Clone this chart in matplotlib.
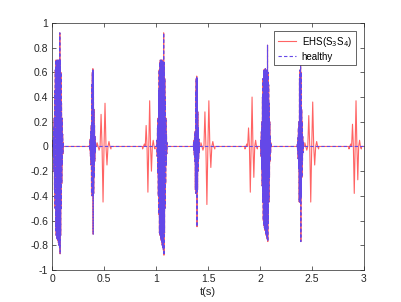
import numpy as np
import matplotlib
matplotlib.use("Agg")
import matplotlib.pyplot as plt

plt.rcParams['font.family'] = ['Liberation Sans', 'DejaVu Sans']

# ---------------------------------------------------------------
# Data: each heart sound is a list of
# successive samples, spaced `dt` seconds from `start`
# ---------------------------------------------------------------
T_END = 3.0

# S1 (present in both signals)
s1_start = [0.008, 1.008, 2.008]
s1_dt = 0.0027
s1_vals = [
    [0.05, -0.08, 0.15, -0.2, 0.23, -0.35, 0.45, -0.5, 0.62, -0.68, 0.7, -0.72, 0.68,
     -0.74, 0.7, -0.75, 0.69, -0.76, 0.7, -0.78, 0.68, -0.8, 0.7, -0.82, 0.92, -0.87,
     0.7, -0.72, 0.6, -0.5, 0.35, -0.3, 0.23, -0.15, 0.1, -0.06, 0.03],
    [0.05, -0.08, 0.15, -0.22, 0.23, -0.4, 0.45, -0.55, 0.62, -0.7, 0.68, -0.72, 0.7,
     -0.74, 0.69, -0.76, 0.7, -0.78, 0.68, -0.8, 0.7, -0.82, 0.68, -0.84, 0.92, -0.88,
     0.68, -0.7, 0.55, -0.5, 0.4, -0.3, 0.23, -0.15, 0.1, -0.06, 0.03],
    [0.05, -0.08, 0.12, -0.18, 0.2, -0.32, 0.4, -0.45, 0.55, -0.6, 0.62, -0.64, 0.6,
     -0.66, 0.62, -0.68, 0.63, -0.7, 0.62, -0.72, 0.6, -0.74, 0.62, -0.75, 0.82, -0.77,
     0.6, -0.62, 0.5, -0.45, 0.35, -0.25, 0.2, -0.12, 0.08, -0.05, 0.03],
]

# S2 (present in both signals)
s2_start = [0.36, 1.36, 2.36]
s2_dt = 0.0026
s2_vals = [
    [0.02, -0.03, 0.06, -0.08, 0.12, -0.15, 0.17, -0.38, 0.5, -0.4, 0.6, -0.4, 0.63,
     -0.71, 0.6, -0.38, 0.3, -0.25, 0.17, -0.12, 0.08, -0.05, 0.03],
    [0.02, -0.03, 0.05, -0.07, 0.1, -0.12, 0.12, -0.35, 0.45, -0.38, 0.55, -0.38, 0.57,
     -0.65, 0.55, -0.35, 0.28, -0.2, 0.15, -0.1, 0.06, -0.05, 0.03],
    [0.02, -0.04, 0.07, -0.1, 0.15, -0.18, 0.2, -0.45, 0.55, -0.45, 0.62, -0.45, 0.68,
     -0.77, 0.6, -0.4, 0.3, -0.25, 0.2, -0.12, 0.08, -0.05, 0.03],
]

# S3 (EHS only)
s3_start = [0.432, 1.432, 2.432]
s3_dt = 0.0095
s3_vals = [
    [0.03, 0, -0.03, 0, 0.26, 0, -0.45, 0, 0.35, 0, -0.15, 0, 0.04, 0, -0.02],
    [0.03, 0, -0.03, 0, 0.28, 0, -0.47, 0, 0.37, 0, -0.17, 0, 0.04, 0, -0.02],
    [0.03, 0, -0.03, 0, 0.25, 0, -0.45, 0, 0.36, 0, -0.15, 0, 0.04, 0, -0.02],
]

# S4 (EHS only)
s4_start = [0.87, 1.856, 2.857]
s4_dt = 0.0085
s4_vals = [
    [-0.02, 0, 0.02, 0, 0.17, 0, -0.37, 0, 0.37, 0, -0.2, 0, 0.05, 0, -0.02],
    [-0.02, 0, 0.02, 0, 0.15, 0, -0.37, 0, 0.4, 0, -0.25, 0, 0.05, 0, -0.02],
    [-0.02, 0, 0.02, 0, 0.18, 0, -0.38, 0, 0.37, 0, -0.27, 0, 0.05, 0, -0.02],
]


def build(sounds):
    """ stitch bursts onto a zero baseline """
    bursts = []
    for starts, dt, vals in sounds:
        for t0, v in zip(starts, vals):
            tt = t0 + dt * np.arange(len(v))
            bursts.append((t0, tt, np.asarray(v, dtype=float)))
    bursts.sort(key=lambda b: b[0])
    t_all, y_all = [0.0], [0.0]
    for t0, tt, v in bursts:
        t_all += [tt[0] - 0.002] + list(tt) + [tt[-1] + 0.002]
        y_all += [0.0] + list(v) + [0.0]
    t_all.append(T_END)
    y_all.append(0.0)
    return np.array(t_all), np.array(y_all)


t_ehs, y_ehs = build([(s1_start, s1_dt, s1_vals), (s2_start, s2_dt, s2_vals),
                      (s3_start, s3_dt, s3_vals), (s4_start, s4_dt, s4_vals)])
t_h, y_h = build([(s1_start, s1_dt, s1_vals), (s2_start, s2_dt, s2_vals)])

# ---------------------------------------------------------------
# Plot
# ---------------------------------------------------------------
fig = plt.figure(figsize=(4.02, 3.02), dpi=100)
ax = fig.add_axes([0.13, 0.106, 0.775, 0.818])

ax.plot(t_ehs, y_ehs, color='#ff6464', lw=0.8, label='EHS(S$_3$S$_4$)')
ax.plot(t_h, y_h, color='#6448e8', lw=0.8, linestyle='--', dashes=(3, 2),
        label='healthy')

ax.set_xlim(0, 3)
ax.set_ylim(-1, 1)
ax.set_xticks(np.arange(0, 3.01, 0.5))
ax.set_yticks(np.arange(-1, 1.01, 0.2))
ax.set_xticklabels(['0', '0.5', '1', '1.5', '2', '2.5', '3'])
ax.set_yticklabels(['-1', '-0.8', '-0.6', '-0.4', '-0.2', '0', '0.2', '0.4',
                    '0.6', '0.8', '1'])
ax.tick_params(direction='in', length=3, width=0.5, labelsize=7.5,
               colors='#262626', top=True, right=True, pad=3)
for sp in ax.spines.values():
    sp.set_linewidth(0.5)
    sp.set_color('#262626')
ax.set_xlabel('t(s)', fontsize=8, color='#262626', labelpad=2)

leg = ax.legend(loc='upper right', fontsize=7, fancybox=False,
                borderaxespad=0.8, handlelength=1.8, framealpha=1,
                borderpad=0.4, labelspacing=0.3, handletextpad=0.6)
leg.get_frame().set_edgecolor('#262626')
leg.get_frame().set_linewidth(0.5)

fig.savefig('out.png', dpi=100)
